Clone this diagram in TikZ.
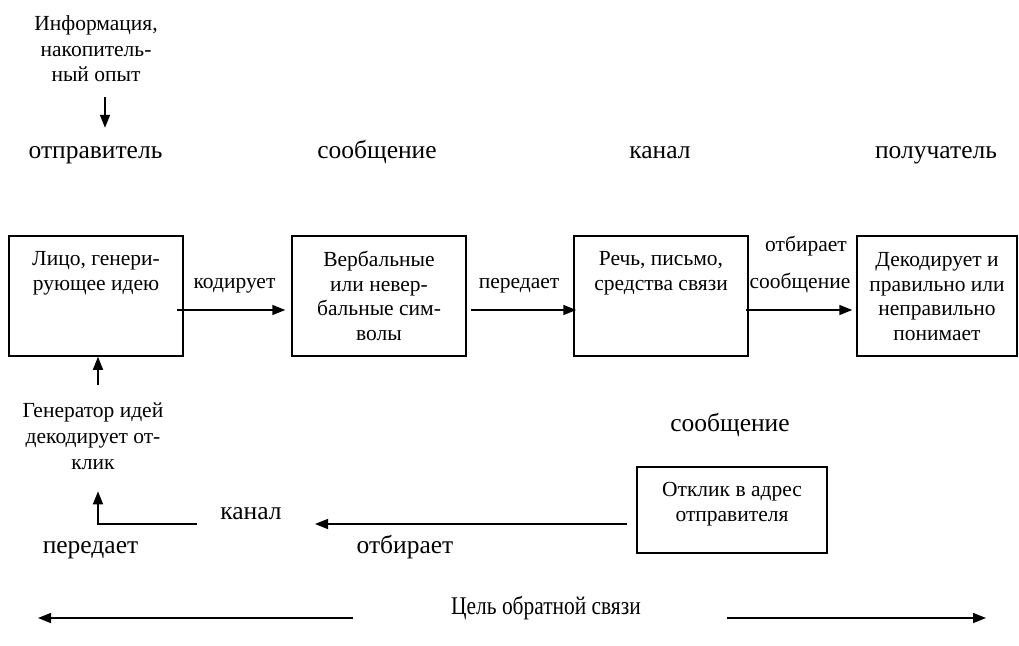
\documentclass[tikz,border=0pt]{standalone}
\usepackage{fontspec}
\setmainfont{Liberation Serif}
\usetikzlibrary{arrows.meta}

\tikzset{
  box/.style={draw, line width=1.5pt, inner sep=0pt},
  boxtext/.style={align=center, inner sep=0pt, font=\fontsize{21.5}{24.5}\selectfont},
  small/.style={inner sep=0pt, anchor=base, font=\fontsize{21.5}{24.5}\selectfont},
  big/.style={inner sep=0pt, anchor=base, font=\fontsize{25.5}{28}\selectfont},
  arr/.style={line width=1.5pt, -{Triangle[length=13pt,width=10pt]}},
  line/.style={line width=1.5pt}
}

\begin{document}
\begin{tikzpicture}[x=1pt,y=-1pt]
            \useasboundingbox (0,0) rectangle (1019,645);
            % top row: roles
            \node[boxtext, anchor=north, font=\fontsize{21.5}{25.5}\selectfont] (info) at ( 96, 15.5) {Информация,\\накопитель-\\ный опыт};
            \node[big]   (sender) at ( 95.5,158) {отправитель};
            \node[big]   (msg)    at (377,  158) {сообщение};
            \node[big]   (chan)   at (660,  158) {канал};
            \node[big]   (recv)   at (936,  158) {получатель};
            % boxes
            \node[box, minimum width=174pt, minimum height=120pt] (b1) at ( 96,296) {};
            \node[box, minimum width=174pt, minimum height=120pt] (b2) at (379,296) {};
            \node[box, minimum width=174pt, minimum height=120pt] (b3) at (661,296) {};
            \node[box, minimum width=160pt, minimum height=120pt] (b4) at (937,296) {};
            \node[box, minimum width=190pt, minimum height= 86pt] (b5) at (732,510) {};
            \node[boxtext, anchor=north] (t1) at ([yshift=-16pt]b1.north) {Лицо, генери-\\рующее идею};
            \node[boxtext, anchor=north] (t2) at ([yshift=-16pt]b2.north) {Вербальные\\или невер-\\бальные сим-\\волы};
            \node[boxtext, anchor=north] (t3) at ([yshift=-16pt]b3.north) {Речь, письмо,\\средства связи};
            \node[boxtext, anchor=north] (t4) at ([yshift=-17pt]b4.north) {Декодирует и\\правильно или\\неправильно\\понимает};
            \node[boxtext, anchor=north] (t5) at ([yshift=-16pt]b5.north) {Отклик в адрес\\отправителя};
            % labels on the arrows
            \node[small] (enc)    at (234.5,288) {кодирует};
            \node[small] (trans)  at (519,  288) {передает};
            \node[small] (sel)    at (806,  251) {отбирает};
            \node[small] (selmsg) at (800,  288) {сообщение};
            \node[boxtext, anchor=north, font=\fontsize{21.5}{26}\selectfont] (gen) at ( 93,403) {Генератор идей\\декодирует от-\\клик};
            \node[big]   (msg2)   at (730,  431) {сообщение};
            \node[big]   (chan2)  at (251,  519) {канал};
            \node[big]   (trans2) at ( 90.5,553) {передает};
            \node[big]   (sel2)   at (405,  553) {отбирает};
            \node[big]   (goal)   at (546,  614) {\scalebox{0.84}[1]{Цель обратной связи}};
            \coordinate (c1) at (197,524);
            \coordinate (c2) at (315,524);
            \coordinate (g1) at (353,618);
            \coordinate (g2) at ( 38,618);
            \coordinate (g3) at (727,618);
            \coordinate (g4) at (986,618);
            % connectors
            \draw[arr, shorten <=15pt, shorten >=18pt] ([xshift=9pt]info.south) -- ([xshift=9pt]info.south |- sender.north);
            \draw[arr] ([shift={(-7,14)}]b1.east) -- ([shift={(-6,14)}]b2.west);
            \draw[arr] ([shift={( 4,14)}]b2.east) -- ([shift={( 3,14)}]b3.west);
            \draw[arr] ([shift={(-3,14)}]b3.east) -- ([shift={(-4,14)}]b4.west);
            \draw[arr, shorten <=18pt] ([xshift=2pt]b1.south |- gen.north) -- ([xshift=2pt]b1.south);
            \draw[arr, shorten >=21pt] (c1) -| ([xshift=5pt]gen.south);
            \draw[arr] ([shift={(-9,14)}]b5.west) -- (c2);
            \draw[arr] (g1) -- (g2);
            \draw[arr] (g3) -- (g4);
\end{tikzpicture}
\end{document}
